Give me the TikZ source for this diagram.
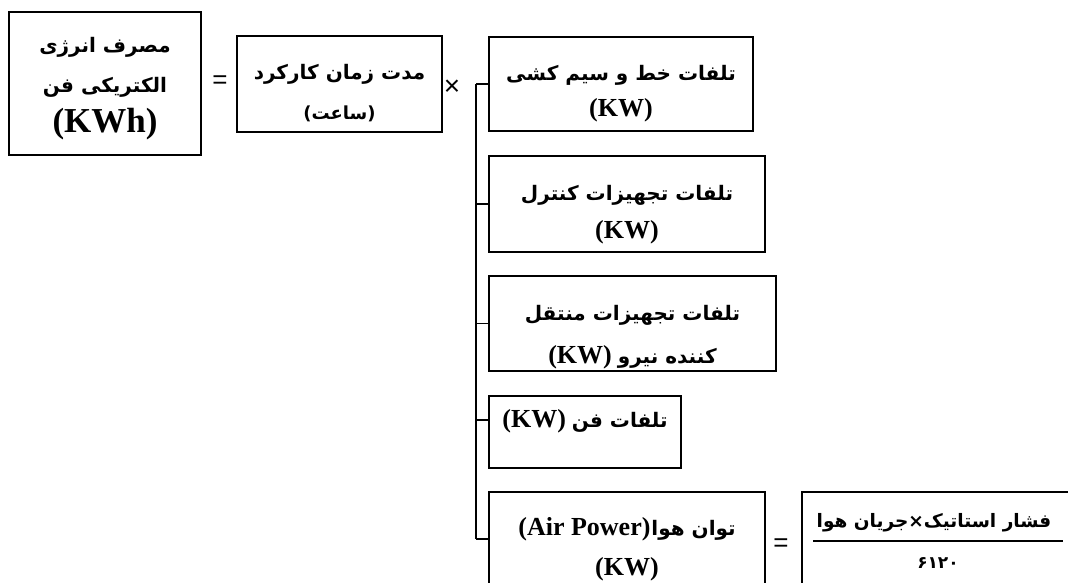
\documentclass[tikz,border=0pt]{standalone}
\usepackage{fontspec}
\TeXXeTstate=1
\newfontfamily\arfont[Script=Arabic]{DejaVu Sans}
\newfontfamily\latfont{Liberation Serif}
\newfontfamily\symfont{Liberation Sans}
\newcommand\AR[1]{\hbox{\arfont\bfseries\beginR #1\endR}}
\newcommand\LT[1]{\hbox{\latfont\bfseries #1}}
\begin{document}
\begin{tikzpicture}[x=1pt,y=-1pt,
  box/.style={draw, line width=1.6pt, inner sep=0pt},
  txt/.style={align=center, inner sep=0pt},
  sym/.style={inner sep=0pt, font=\symfont\fontsize{26}{26}\selectfont},
  conn/.style={line width=1.6pt}]
\useasboundingbox (0,0) rectangle (1068,583);
\clip (0,0) rectangle (1068,583);
% boxes
\node[box, minimum width=192pt, minimum height=143pt] (b1) at (105,83.5) {};
\node[box, minimum width=205pt, minimum height=96pt] (b2) at (339.5,84) {};
\node[box, minimum width=264pt, minimum height=94pt] (b3) at (621,84) {};
\node[box, minimum width=276pt, minimum height=96pt] (b4) at (627,204) {};
\node[box, minimum width=287pt, minimum height=95pt] (b5) at (632.5,323.5) {};
\node[box, minimum width=192pt, minimum height=72pt] (b6) at (585,432) {};
\node[box, minimum width=276pt, minimum height=96pt] (b7) at (627,540) {};
\node[box, minimum width=273pt, minimum height=108pt] (b8) at (938.5,546) {};
% texts
\node[txt, font=\fontsize{20}{40}\selectfont] (t1) at (105,89) {\AR{مصرف انرژی}\\\AR{الکتریکی فن}\\{\fontsize{35}{44}\selectfont\LT{(KWh)}}};
\node[txt, font=\fontsize{20}{40}\selectfont] (t2) at (339.5,93) {\AR{مدت زمان کارکرد}\\{\fontsize{18}{18}\selectfont\AR{(ساعت)}}};
\node[txt, font=\fontsize{20}{36}\selectfont] (t3) at (621,94) {\AR{تلفات خط و سیم کشی}\\{\fontsize{26}{26}\selectfont\LT{(KW)}}};
\node[txt, font=\fontsize{20}{38}\selectfont] (t4) at (627,215) {\AR{تلفات تجهیزات کنترل}\\{\fontsize{26}{26}\selectfont\LT{(KW)}}};
\node[txt, font=\fontsize{20}{43}\selectfont] (t5) at (632.5,337) {\AR{تلفات تجهیزات منتقل}\\{\fontsize{26}{26}\selectfont\LT{(KW)}}\kern6pt\AR{کننده نیرو}};
\node[txt, font=\fontsize{20}{40}\selectfont] (t6) at (585,421) {{\fontsize{26}{26}\selectfont\LT{(KW)}}\kern6pt\AR{تلفات فن}};
\node[txt, font=\fontsize{20}{40}\selectfont] (t7) at (627,549) {{\fontsize{26}{26}\selectfont\LT{(Air Power)}}\kern1pt\AR{توان هوا}\\{\fontsize{26}{26}\selectfont\LT{(KW)}}};
\node[txt, font=\fontsize{18.5}{18.5}\selectfont] (num) at (934,523) {\AR{فشار استاتیک×جریان هوا}};
\node[txt, font=\fontsize{17}{17}\selectfont] (den) at (938,563) {\hbox{\arfont\bfseries ۶۱۲۰}};
\coordinate (fl) at (813,541);
\coordinate (fr) at (1063,541);
\draw[conn] (fl) -- (fr);
% operators
\node[sym] (eq1) at (220,82) {=};
\node[sym, font=\symfont\fontsize{28}{28}\selectfont] (mul) at (452,88) {×};
\node[sym] (eq2) at (781,545) {=};
% bracket
\coordinate (sp1) at (476,84);
\coordinate (sp2) at (476,539);
\draw[conn] (sp1) -- (sp2);
\draw[conn] (sp1) -- (b3.west);
\draw[conn] (sp1 |- b4.west) -- (b4.west);
\draw[conn] (sp1 |- b5.west) -- (b5.west);
\draw[conn] (476,420) coordinate (s6) -- (s6 -| b6.west);
\draw[conn] (sp2) -- (sp2 -| b7.west);
\end{tikzpicture}
\end{document}
